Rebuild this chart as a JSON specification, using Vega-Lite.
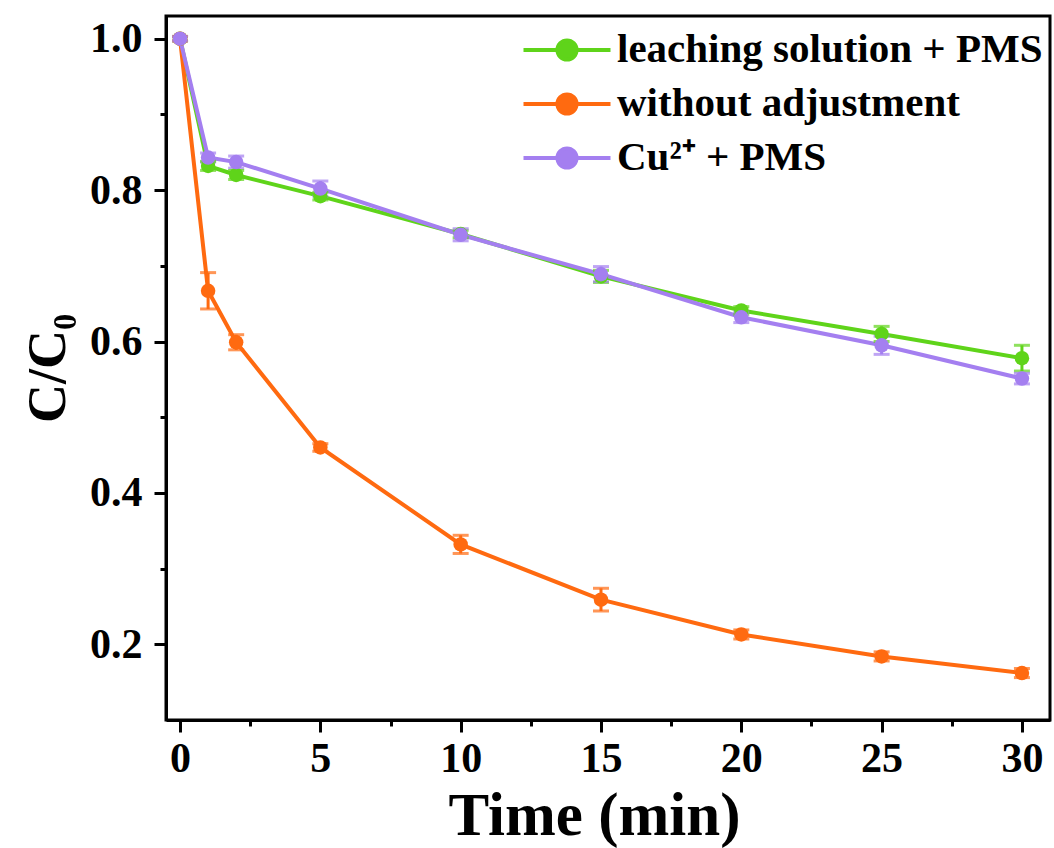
{
  "$schema": "https://vega.github.io/schema/vega-lite/v6.json",
  "width": 884,
  "height": 704,
  "autosize": "none",
  "padding": {"left": 166, "top": 16, "right": 4, "bottom": 128},
  "background": "white",
  "config": {
    "view": {"stroke": "black", "strokeWidth": 3},
    "font": "Liberation Serif",
    "axis": {
      "domainColor": "black", "domainWidth": 3, "tickColor": "black", "tickWidth": 3,
      "labelFont": "Liberation Serif", "labelFontWeight": "bold", "labelColor": "black",
      "titleFont": "Liberation Serif", "titleFontWeight": "bold", "titleColor": "black",
      "grid": false
    },
    "legend": {"labelFont": "Liberation Serif", "labelFontWeight": "bold"}
  },
  "data": {
    "values": [
      {"time": 0, "series": "leaching solution + PMS", "value": 1.0, "lo": 0.997, "hi": 1.003},
      {"time": 1, "series": "leaching solution + PMS", "value": 0.832, "lo": 0.826, "hi": 0.838},
      {"time": 2, "series": "leaching solution + PMS", "value": 0.82, "lo": 0.814, "hi": 0.826},
      {"time": 5, "series": "leaching solution + PMS", "value": 0.792, "lo": 0.787, "hi": 0.797},
      {"time": 10, "series": "leaching solution + PMS", "value": 0.742, "lo": 0.737, "hi": 0.747},
      {"time": 15, "series": "leaching solution + PMS", "value": 0.686, "lo": 0.678, "hi": 0.694},
      {"time": 20, "series": "leaching solution + PMS", "value": 0.641, "lo": 0.636, "hi": 0.646},
      {"time": 25, "series": "leaching solution + PMS", "value": 0.61, "lo": 0.6, "hi": 0.62},
      {"time": 30, "series": "leaching solution + PMS", "value": 0.578, "lo": 0.561, "hi": 0.595},
      {"time": 0, "series": "without adjustment", "value": 1.0, "lo": 0.997, "hi": 1.003},
      {"time": 1, "series": "without adjustment", "value": 0.667, "lo": 0.643, "hi": 0.691},
      {"time": 2, "series": "without adjustment", "value": 0.599, "lo": 0.589, "hi": 0.609},
      {"time": 5, "series": "without adjustment", "value": 0.46, "lo": 0.455, "hi": 0.465},
      {"time": 10, "series": "without adjustment", "value": 0.332, "lo": 0.32, "hi": 0.344},
      {"time": 15, "series": "without adjustment", "value": 0.259, "lo": 0.244, "hi": 0.274},
      {"time": 20, "series": "without adjustment", "value": 0.213, "lo": 0.207, "hi": 0.219},
      {"time": 25, "series": "without adjustment", "value": 0.184, "lo": 0.178, "hi": 0.19},
      {"time": 30, "series": "without adjustment", "value": 0.162, "lo": 0.156, "hi": 0.168},
      {"time": 0, "series": "Cu²⁺ + PMS", "value": 1.0, "lo": 0.997, "hi": 1.003},
      {"time": 1, "series": "Cu²⁺ + PMS", "value": 0.843, "lo": 0.837, "hi": 0.849},
      {"time": 2, "series": "Cu²⁺ + PMS", "value": 0.837, "lo": 0.829, "hi": 0.845},
      {"time": 5, "series": "Cu²⁺ + PMS", "value": 0.802, "lo": 0.792, "hi": 0.812},
      {"time": 10, "series": "Cu²⁺ + PMS", "value": 0.741, "lo": 0.733, "hi": 0.749},
      {"time": 15, "series": "Cu²⁺ + PMS", "value": 0.689, "lo": 0.679, "hi": 0.699},
      {"time": 20, "series": "Cu²⁺ + PMS", "value": 0.632, "lo": 0.625, "hi": 0.639},
      {"time": 25, "series": "Cu²⁺ + PMS", "value": 0.595, "lo": 0.583, "hi": 0.607},
      {"time": 30, "series": "Cu²⁺ + PMS", "value": 0.551, "lo": 0.544, "hi": 0.558}
    ]
  },
  "layer": [
    {
      "encoding": {
        "x": {
          "field": "time", "type": "quantitative", "title": "Time (min)",
          "scale": {"domain": [-0.5, 31], "nice": false, "zero": false},
          "axis": {
            "orient": "bottom",
            "title": "Time (min)", "titleFontSize": 61,
            "titleX": 428, "titleY": 114, "titleAlign": "center", "titleBaseline": "alphabetic",
            "titleFont": "Liberation Serif", "labelFont": "Liberation Serif",
            "values": [0, 5, 10, 15, 20, 25, 30], "labelFontSize": 42, "labelPadding": 6,
            "tickSize": 12, "labelFlush": false
          }
        },
        "color": {
          "field": "series", "type": "nominal",
          "scale": {
            "domain": ["leaching solution + PMS", "without adjustment", "Cu²⁺ + PMS"],
            "range": ["#5fd41a", "#ff6a10", "#a47ff0"]
          },
          "legend": {
            "title": null, "orient": "none", "legendX": 377, "legendY": 10,
            "labelFontSize": 41, "labelFont": "Liberation Serif", "labelFontWeight": "bold", "labelColor": "black",
            "symbolType": "M-2,0L2,0M-0.44,0A0.44,0.44,0,1,1,0.44,0A0.44,0.44,0,1,1,-0.44,0Z",
            "symbolSize": 1892, "symbolStrokeWidth": 4, "labelOffset": 26, "rowPadding": 10,
            "labelLimit": 600,
            "encode": {"symbols": {"update": {"fill": {"scale": "color", "field": "value"}, "stroke": {"scale": "color", "field": "value"}, "opacity": {"value": 1}}}}
          }
        }
      },
      "layer": [
        {
          "mark": {"type": "line", "strokeWidth": 4},
          "encoding": {
            "y": {
              "field": "value", "type": "quantitative", "title": "C/C₀",
              "scale": {"domain": [0.1, 1.03], "nice": false, "zero": false},
              "axis": {
                "orient": "left",
                "title": "C/C₀", "titleFontSize": 54, "titlePadding": 14,
                "titleFont": "Liberation Serif", "labelFont": "Liberation Serif",
                "values": [0.2, 0.4, 0.6, 0.8, 1.0], "format": ".1f",
                "labelFontSize": 42, "labelPadding": 12, "tickSize": 12
              }
            }
          }
        },
        {
          "mark": {"type": "errorbar", "ticks": {"size": 16, "thickness": 3}, "thickness": 3},
          "encoding": {
            "y": {"field": "lo", "type": "quantitative", "title": "C/C₀"},
            "y2": {"field": "hi"}
          }
        },
        {
          "mark": {"type": "point", "shape": "circle", "filled": true, "size": 210, "opacity": 1},
          "encoding": {
            "y": {"field": "value", "type": "quantitative", "title": "C/C₀"}
          }
        }
      ]
    },
    {
      "mark": {"type": "point", "opacity": 0},
      "encoding": {
        "x": {
          "field": "time", "type": "quantitative",
          "scale": {"domain": [-0.5, 31], "nice": false, "zero": false},
          "axis": {"orient": "bottom", "title": null, "labels": false, "domain": false, "tickSize": 6,
                   "values": [2.5, 7.5, 12.5, 17.5, 22.5, 27.5]}
        },
        "y": {
          "field": "value", "type": "quantitative",
          "scale": {"domain": [0.1, 1.03], "nice": false, "zero": false},
          "axis": {"orient": "left", "title": null, "labels": false, "domain": false, "tickSize": 6,
                   "values": [0.3, 0.5, 0.7, 0.9]}
        }
      }
    }
  ],
  "resolve": {"axis": {"x": "independent", "y": "independent"}}
}
